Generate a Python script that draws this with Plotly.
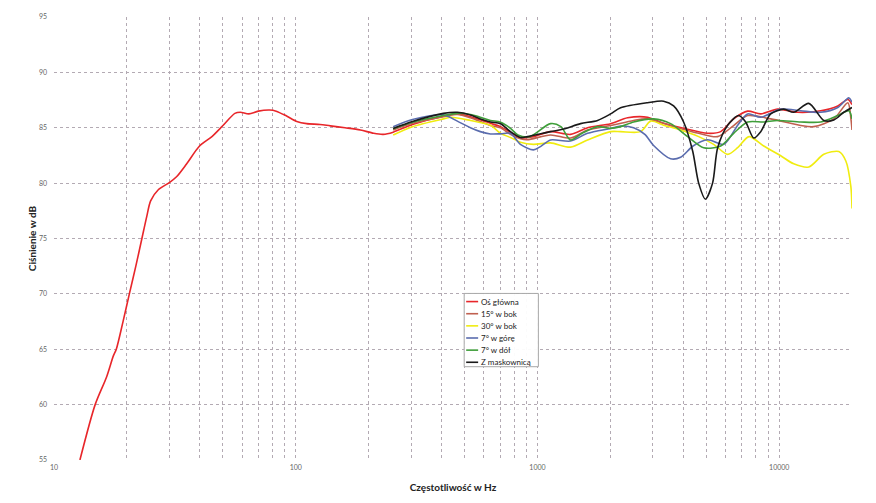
import plotly.graph_objects as go

# ---- data ----
freq_main = [12.8, 14.8, 16.5, 17.6, 18.1, 19.3, 20.5, 21.8, 23.1, 24.2, 25.1, 27.0, 30, 32.2, 35.4, 40,
             45, 50, 56, 59, 64, 70, 78, 83, 92, 101, 111, 126, 139, 160, 185, 210, 230, 253, 304, 408,
             466, 528, 639, 703, 773, 850, 962, 1132, 1370, 1611, 2006, 2359, 2854, 3324, 4022, 5055,
             5726, 6478, 7404, 8383, 9857, 11900, 14850, 17470, 19220, 20000]
db_main = [55.0, 60.0, 62.5, 64.4, 65.0, 67.5, 70.0, 72.5, 75.0, 77.0, 78.4, 79.4, 80.05, 80.6, 81.75, 83.35,
           84.2, 85.2, 86.3, 86.4, 86.25, 86.5, 86.6, 86.5, 86.04, 85.57, 85.37, 85.3, 85.17, 85.0, 84.8, 84.5,
           84.4, 84.6, 85.3, 86.05, 86.25, 86.0, 85.4, 85.1, 84.6, 84.1, 84.2, 84.65, 84.4, 85.0, 85.37,
           85.9, 85.95, 85.4, 84.95, 84.5, 84.65, 85.8, 86.5, 86.25, 86.68, 86.4, 86.53, 86.97, 87.55, 87.1]

freq_15 = [253, 304, 408, 466, 528, 639, 703, 773, 850, 909, 1132, 1370, 1611, 2006, 2498, 2854, 3657,
           4642, 5563, 6478, 7404, 9222, 12270, 13900, 16820, 19220, 19800, 20000]
db_15 = [84.8, 85.4, 86.0, 86.2, 85.9, 85.2, 85.0, 84.4, 84.0, 83.92, 84.35, 84.07, 84.8, 85.2, 85.66, 85.8,
         85.1, 84.5, 84.2, 85.2, 86.1, 85.8, 85.2, 85.1, 85.8, 87.26, 85.8, 84.8]

freq_30 = [253, 304, 408, 440, 528, 639, 703, 773, 850, 962, 1132, 1370, 1611, 2006, 2207, 2670, 2940,
           3324, 3908, 4642, 5356, 6120, 6731, 7500, 8627, 10145, 11480, 13250, 15290, 17640, 18860,
           19780, 20000]
db_30 = [84.35, 85.1, 85.8, 85.95, 85.66, 85.23, 84.5, 84.12, 83.7, 83.5, 83.63, 83.25, 83.9, 84.65, 84.65,
         84.65, 85.6, 85.23, 84.8, 84.2, 83.5, 82.6, 83.2, 84.2, 83.35, 82.47, 81.74, 81.45, 82.6, 82.85,
         82.0, 79.7, 77.7]

freq_up = [253, 304, 408, 466, 528, 580, 639, 703, 773, 850, 962, 1029, 1132, 1370, 1611, 2006, 2207,
           2498, 2780, 3022, 3554, 3908, 4400, 5055, 5900, 6731, 7404, 8383, 10145, 12270, 14850, 17470,
           19400, 20000]
db_up = [85.1, 85.75, 86.16, 85.6, 85.0, 84.65, 84.44, 84.45, 84.5, 83.5, 83.0, 83.3, 83.9, 83.8, 84.5,
         84.94, 85.15, 85.0, 84.4, 83.4, 82.2, 82.33, 83.35, 83.92, 83.5, 85.23, 86.25, 85.95, 86.68, 86.53,
         86.4, 86.83, 87.7, 87.3]

freq_down = [253, 304, 408, 466, 528, 580, 639, 703, 773, 830, 930, 1132, 1250, 1370, 1530, 1772, 2006,
             2207, 2498, 3022, 3554, 4179, 4867, 5726, 6478, 7404, 8627, 9857, 12270, 14850, 17470,
             19400, 20000]
db_down = [84.9, 85.5, 86.1, 86.3, 86.2, 85.95, 85.66, 85.5, 84.95, 84.35, 84.2, 85.37, 85.1, 83.9, 84.5,
           85.1, 84.94, 85.1, 85.52, 85.8, 85.37, 84.2, 83.2, 83.35, 84.5, 85.52, 85.52, 85.66, 85.52,
           85.52, 86.1, 86.53, 85.8]

freq_grille = [253, 304, 408, 466, 528, 580, 639, 703, 773, 850, 909, 1132, 1282, 1507, 1772, 2006, 2207,
               2854, 3324, 3657, 4022, 4384, 4642, 4950, 5300, 5563, 6120, 6795, 7264, 7842, 8383, 9222,
               10440, 11480, 13250, 15290, 16820, 18500, 20000]
db_grille = [84.94, 85.57, 86.3, 86.4, 86.16, 85.8, 85.52, 85.37, 84.65, 84.12, 84.2, 84.65, 84.88, 85.37,
             85.66, 86.25, 86.8, 87.26, 87.4, 86.97, 85.52, 82.9, 80.0, 78.55, 80.0, 83.2, 85.23, 86.1,
             85.52, 84.07, 84.65, 86.25, 86.68, 86.4, 87.2, 85.66, 85.7, 86.4, 86.83]

series_names = ["Oś główna", "15° w bok", "30° w bok", "7° w górę", "7° w dół", "Z maskownicą"]
series_colors = ["#e8262a", "#c0604f", "#f0ec10", "#5a6cae", "#3f9e3a", "#1a1a1a"]

x_tickvals = [m * 10 ** e for e in range(1, 5) for m in range(1, 10) if m * 10 ** e <= 20000]
x_ticktext = [str(v) if v in (10, 100, 1000, 10000) else "" for v in x_tickvals]
y_tickvals = [55, 60, 65, 70, 75, 80, 85, 90, 95]

fig = go.Figure()
data = [(freq_main, db_main), (freq_15, db_15), (freq_30, db_30),
        (freq_up, db_up), (freq_down, db_down), (freq_grille, db_grille)]
for (fx, fy), name, col in zip(data, series_names, series_colors):
    fig.add_trace(go.Scatter(x=fx, y=fy, mode="lines", name=name, showlegend=False,
                             line=dict(color=col, width=1.6, shape="spline", smoothing=0.8)))

# compact legend box (drawn in paper coordinates)
leg_x0, leg_x1, leg_top, leg_bot = 0.514, 0.607, 0.376, 0.2106
leg_step = 0.0274
shapes = [dict(type="rect", xref="paper", yref="paper", x0=leg_x0, x1=leg_x1, y0=leg_bot, y1=leg_top,
               line=dict(color="#a8a8a8", width=1), fillcolor="rgba(255,255,255,0.95)", layer="above")]
annotations = []
for i, (name, col) in enumerate(zip(series_names, series_colors)):
    yc = 0.3576 - i * leg_step
    shapes.append(dict(type="line", xref="paper", yref="paper", x0=0.5165, x1=0.5315, y0=yc, y1=yc,
                       line=dict(color=col, width=1.6), layer="above"))
    annotations.append(dict(text=name, xref="paper", yref="paper", x=0.533, y=yc, xanchor="left",
                            yanchor="middle", showarrow=False, font=dict(size=8, color="#222")))

grid_col = "#b3aab3"
fig.update_layout(
    width=876, height=503,
    paper_bgcolor="white", plot_bgcolor="white",
    margin=dict(l=54, r=24, t=15, b=29),
    font=dict(family="Lato, Open Sans, sans-serif", color="#333"),
    showlegend=False,
    shapes=shapes, annotations=annotations,
)
fig.update_xaxes(type="log", range=[1, 4.30103],
                 tickvals=x_tickvals, ticktext=x_ticktext,
                 tickfont=dict(size=7, color="#666"), ticks="", ticklabelstandoff=2,
                 showgrid=True, gridcolor=grid_col, griddash="dot", gridwidth=1,
                 zeroline=False, showline=False,
                 title=dict(text="<b>Częstotliwość w Hz</b>", font=dict(size=10, color="#222"), standoff=13))
fig.update_yaxes(range=[55, 95], tickvals=y_tickvals,
                 tickfont=dict(size=7, color="#666"), ticks="", ticklabelstandoff=6,
                 showgrid=True, gridcolor=grid_col, griddash="dot", gridwidth=1,
                 zeroline=False, showline=False,
                 title=dict(text="<b>Ciśnienie w dB</b>", font=dict(size=10, color="#222"), standoff=0))

fig.write_html("out.html", config={"displayModeBar": False},
               post_script="document.body.style.margin='0';")
